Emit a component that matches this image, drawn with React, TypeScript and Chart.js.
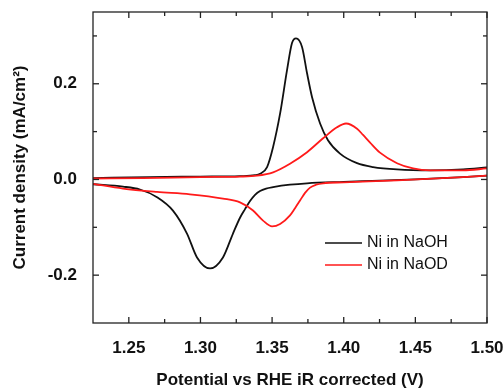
import React, { useEffect, useRef } from "react";
import { Chart, registerables } from "chart.js";

Chart.register(...registerables);

// Ni in NaOH — anodic (forward) sweep
const naohFwdPotential = [
  1.225, 1.2648, 1.2997, 1.3276, 1.3381, 1.3416, 1.3465, 1.3507, 1.3556, 1.3604, 1.3639, 1.3667,
  1.3709, 1.3744, 1.3779, 1.3835, 1.389, 1.3974, 1.4093, 1.4205, 1.4372, 1.4603, 1.4833, 1.5,
];
const naohFwdCurrent = [
  0.003, 0.005, 0.006, 0.007, 0.009, 0.012, 0.026, 0.068, 0.138, 0.228, 0.285, 0.295,
  0.277, 0.222, 0.172, 0.117, 0.082, 0.054, 0.034, 0.026, 0.021, 0.019, 0.021, 0.025,
];
// Ni in NaOH — cathodic (reverse) sweep
const naohRevPotential = [
  1.5, 1.4833, 1.45, 1.42, 1.4, 1.3744, 1.3625, 1.3507, 1.3458, 1.3416, 1.3381, 1.3346, 1.3311, 1.3276,
  1.3227, 1.3157, 1.3067, 1.2976, 1.2906, 1.2808, 1.2697, 1.2578, 1.2459, 1.225,
];
const naohRevCurrent = [
  0.008, 0.005, 0.0, -0.003, -0.005, -0.008, -0.011, -0.016, -0.019, -0.024, -0.032, -0.045, -0.062, -0.08,
  -0.113, -0.163, -0.186, -0.163, -0.113, -0.065, -0.037, -0.021, -0.015, -0.01,
];

// Ni in NaOD — anodic (forward) sweep
const nadFwdPotential = [
  1.225, 1.26, 1.3, 1.3276, 1.3394, 1.3507, 1.3625, 1.3744, 1.3856, 1.3953, 1.4016, 1.4093, 1.4135,
  1.4184, 1.4253, 1.4372, 1.4484, 1.4603, 1.4833, 1.5,
];
const nadFwdCurrent = [
  0.002, 0.003, 0.005, 0.006, 0.008, 0.015, 0.033, 0.057, 0.086, 0.109, 0.117, 0.106, 0.093,
  0.077, 0.056, 0.034, 0.023, 0.019, 0.019, 0.023,
];
// Ni in NaOD — cathodic (reverse) sweep
const nadRevPotential = [
  1.5, 1.4833, 1.4372, 1.4, 1.3856, 1.3807, 1.3765, 1.373, 1.3695, 1.366, 1.3625, 1.3556, 1.35, 1.3437,
  1.3367, 1.3276, 1.3157, 1.2927, 1.2697, 1.2459, 1.225,
];
const nadRevCurrent = [
  0.008, 0.005, -0.002, -0.006, -0.008, -0.011, -0.017, -0.028, -0.044, -0.06, -0.075, -0.093, -0.098, -0.086,
  -0.065, -0.048, -0.04, -0.031, -0.026, -0.019, -0.009,
];

const seriesLabels = ["Ni in NaOH", "Ni in NaOD"];
const seriesColors = ["#111111", "#ff1a1a"];

const xTickValues = [1.25, 1.3, 1.35, 1.4, 1.45, 1.5];
const yTickValues = [-0.2, 0.0, 0.2];
const xMinorValues = [1.275, 1.325, 1.375, 1.425, 1.475];
const yMinorValues = [-0.1, 0.1, 0.3];

const xTitle = "Potential vs RHE iR corrected (V)";
const yTitle = "Current density (mA/cm²)";

const toPoints = (xs: number[], ys: number[]) => xs.map((x, i) => ({ x, y: ys[i] }));

const framePlugin = {
  id: "frameTicks",
  afterDraw(chart: any) {
    const { ctx, chartArea, scales } = chart;
    const { left, right, top, bottom } = chartArea;
    const xs = scales.x;
    const ys = scales.y;
    ctx.save();
    ctx.strokeStyle = "#222";
    ctx.lineWidth = 1.3;
    ctx.strokeRect(left, top, right - left, bottom - top);
    const seg = (x1: number, y1: number, x2: number, y2: number) => {
      ctx.beginPath();
      ctx.moveTo(x1, y1);
      ctx.lineTo(x2, y2);
      ctx.stroke();
    };
    xTickValues.forEach((v) => {
      const p = xs.getPixelForValue(v);
      seg(p, bottom, p, bottom - 6);
      seg(p, top, p, top + 6);
    });
    xMinorValues.forEach((v) => {
      const p = xs.getPixelForValue(v);
      seg(p, bottom, p, bottom - 4);
      seg(p, top, p, top + 4);
    });
    yTickValues.forEach((v) => {
      const p = ys.getPixelForValue(v);
      seg(left, p, left + 6, p);
      seg(right, p, right - 6, p);
    });
    yMinorValues.forEach((v) => {
      const p = ys.getPixelForValue(v);
      seg(left, p, left + 4, p);
      seg(right, p, right - 4, p);
    });

    // legend
    ctx.font = "16px 'Liberation Sans', Arial, sans-serif";
    ctx.textBaseline = "middle";
    ctx.textAlign = "left";
    seriesLabels.forEach((label, i) => {
      const ly = top + 231 + i * 22;
      const lx = left + 232;
      ctx.strokeStyle = seriesColors[i];
      ctx.lineWidth = 1.6;
      seg(lx, ly, lx + 37, ly);
      ctx.fillStyle = "#111";
      ctx.fillText(label, lx + 42, ly);
    });
    ctx.restore();
  },
};

const zeroPad = (s: any) => {
  s.paddingTop = 0;
  s.paddingBottom = 0;
  s.paddingLeft = 0;
  s.paddingRight = 0;
};

const lineDs = (label: string, color: string, xs: number[], ys: number[]) => ({
  label,
  data: toPoints(xs, ys),
  showLine: true,
  borderColor: color,
  borderWidth: 1.8,
  pointRadius: 0,
  cubicInterpolationMode: "monotone" as const,
});

export default function App() {
  const ref = useRef<HTMLCanvasElement | null>(null);
  useEffect(() => {
    if (!ref.current) return;
    const tickFont = { family: "'Liberation Sans', Arial, sans-serif", size: 17, weight: "bold" as const };
    const chart = new Chart(ref.current, {
      type: "scatter",
      data: {
        datasets: [
          lineDs(seriesLabels[1], seriesColors[1], nadFwdPotential, nadFwdCurrent),
          lineDs(seriesLabels[1], seriesColors[1], nadRevPotential, nadRevCurrent),
          lineDs(seriesLabels[0], seriesColors[0], naohFwdPotential, naohFwdCurrent),
          lineDs(seriesLabels[0], seriesColors[0], naohRevPotential, naohRevCurrent),
        ],
      },
      options: {
        animation: false,
        responsive: false,
        layout: { padding: { left: 0, top: 12, right: 17, bottom: 0 } },
        plugins: { legend: { display: false }, tooltip: { enabled: false } },
        scales: {
          x: {
            type: "linear",
            min: 1.225,
            max: 1.5,
            grid: { drawOnChartArea: false, drawTicks: false },
            border: { display: false },
            afterBuildTicks: (s: any) => {
              s.ticks = xTickValues.map((v) => ({ value: v }));
            },
            afterFit: (s: any) => {
              s.height = 66;
              zeroPad(s);
            },
            ticks: {
              padding: 15,
              color: "#111",
              font: tickFont,
              maxRotation: 0,
              autoSkip: false,
              callback: (v: any) => Number(v).toFixed(2),
            },
            title: {
              display: true,
              text: xTitle,
              color: "#111",
              font: tickFont,
              padding: { top: 0, bottom: -2 },
            },
          },
          y: {
            type: "linear",
            min: -0.3,
            max: 0.35,
            grid: { drawOnChartArea: false, drawTicks: false },
            border: { display: false },
            afterBuildTicks: (s: any) => {
              s.ticks = yTickValues.map((v) => ({ value: v }));
            },
            afterFit: (s: any) => {
              s.width = 93;
              zeroPad(s);
            },
            ticks: {
              padding: 16,
              color: "#111",
              font: tickFont,
              autoSkip: false,
              callback: (v: any) => Number(v).toFixed(1),
            },
            title: {
              display: true,
              text: yTitle,
              color: "#111",
              font: tickFont,
              padding: { top: 10, bottom: 0 },
            },
          },
        },
      },
      plugins: [framePlugin],
    });
    return () => chart.destroy();
  }, []);
  return (
    <div style={{ position: "fixed", left: 0, top: 0, width: 504, height: 389, background: "#fff" }}>
      <canvas ref={ref} width={504} height={389} />
    </div>
  );
}
